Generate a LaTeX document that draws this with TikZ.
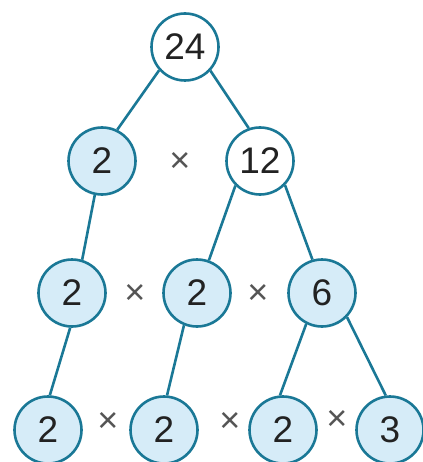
\documentclass[tikz,border=0pt]{standalone}
\usepackage{fontspec}
\setmainfont{Liberation Sans}
\definecolor{edgeblue}{HTML}{1A7896}
\definecolor{fillblue}{HTML}{D6ECF8}
\definecolor{numcol}{HTML}{222222}
\definecolor{timescol}{HTML}{555555}
\begin{document}
\begin{tikzpicture}[x=1pt,y=-1pt,
  num/.style={circle,draw=edgeblue,line width=2.6pt,minimum size=67pt,inner sep=0pt,
    text=numcol,font=\fontsize{37}{37}\selectfont},
  blue/.style={num,fill=fillblue},
  white/.style={num,fill=white},
  times/.style={text=timescol,font=\fontsize{36}{36}\selectfont,inner sep=0pt},
  link/.style={draw=edgeblue,line width=2.6pt}]
\useasboundingbox (0,0) rectangle (422,462);
\node[white] (a) at (185,47) {24};
\node[blue] (b1) at (102,161) {2};
\node[times] (t1) at (180,162) {×};
\node[white] (b2) at (260,161) {12};
\node[blue] (c1) at (72,293) {2};
\node[times] (t2) at (135,294) {×};
\node[blue] (c2) at (197,293) {2};
\node[times] (t3) at (258,294) {×};
\node[blue] (c3) at (322,293) {6};
\node[blue] (d1) at (48,430) {2};
\node[times] (t4) at (108,422) {×};
\node[blue] (d2) at (164,430) {2};
\node[times] (t5) at (230,422) {×};
\node[blue] (d3) at (283,430) {2};
\node[times] (t6) at (337,420) {×};
\node[blue] (d4) at (390,430) {3};
\draw[link] (a.222) -- (b1.64);
\draw[link] (a.317) -- (b2.109);
\draw[link] (b1.258) -- (c1.73);
\draw[link] (b2.225) -- (c2.70);
\draw[link] (b2.316) -- (c3.106);
\draw[link] (c1.267) -- (d1.87);
\draw[link] (c2.248) -- (d2.85);
\draw[link] (c3.243) -- (d3.95);
\draw[link] (c3.316) -- (d4.97);
\end{tikzpicture}
\end{document}
